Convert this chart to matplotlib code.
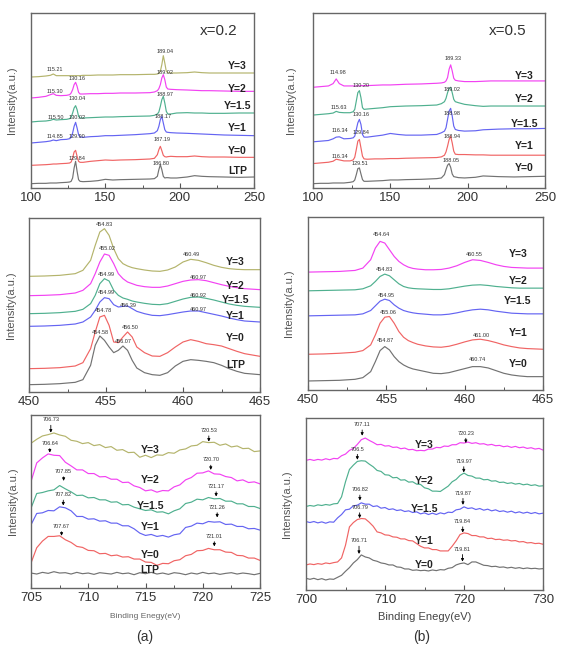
import matplotlib
matplotlib.use('Agg')
import matplotlib.pyplot as plt
from matplotlib.ticker import MultipleLocator

plt.rcParams['font.family'] = ['Liberation Sans', 'DejaVu Sans']

# ---------------- colours ----------------
C_GRAY = '#727272'
C_RED = '#f06464'
C_BLUE = '#6464f2'
C_TEAL = '#4fb08f'
C_MAG = '#f242f2'
C_OLIVE = '#b4b46c'

# ---------------- panel 1 : x=0.2, 100-250 ----------------
p1_x = [100, 105, 110, 113, 115, 117, 120, 124, 126, 127, 128, 129, 130, 131, 132, 133, 135, 140, 145, 150,
        155, 160, 170, 180, 183, 185, 186, 187, 188, 189, 190, 191, 192, 194, 198, 205, 210, 215, 220, 230,
        240, 250]
p1_LTP = [13, 14, 14, 15, 15, 15, 16, 17, 18, 20, 30, 60, 80, 50, 25, 20, 19, 20, 22, 26, 24, 25, 26, 27,
          28, 35, 55, 70, 55, 35, 30, 31, 31, 30, 30, 33, 37, 35, 34, 33, 32, 33]
p1_Y0 = [68, 69, 70, 71, 72, 72, 73, 74, 75, 78, 90, 108, 113, 95, 80, 77, 77, 80, 82, 84, 83, 84, 85, 87,
         89, 100, 115, 125, 112, 98, 94, 93, 94, 95, 94, 94, 96, 94, 93, 93, 92, 92]
p1_Y1 = [135, 137, 139, 141, 144, 142, 145, 146, 148, 152, 165, 185, 197, 180, 160, 153, 152, 154, 155, 157,
         157, 158, 160, 163, 165, 172, 185, 205, 215, 195, 175, 168, 167, 166, 165, 164, 163, 162, 161, 159,
         158, 157]
p1_Y15 = [198, 200, 201, 203, 206, 204, 205, 206, 208, 212, 225, 240, 247, 235, 215, 210, 210, 211, 212, 213,
          213, 214, 215, 216, 218, 222, 228, 245, 265, 275, 255, 230, 222, 222, 225, 226, 225, 225, 224, 224,
          225, 225]
p1_Y2 = [270, 272, 275, 280, 283, 278, 277, 278, 280, 285, 295, 310, 317, 305, 287, 282, 282, 283, 283, 284,
         284, 285, 285, 286, 288, 292, 298, 310, 330, 340, 325, 303, 297, 296, 295, 294, 293, 292, 292, 291,
         290, 290]
p1_Y3 = [333, 334, 336, 338, 342, 337, 337, 337, 337, 337, 337, 337, 337, 337, 337, 337, 338, 338, 339, 339,
         339, 340, 340, 341, 341, 342, 344, 350, 370, 397, 375, 350, 346, 345, 345, 346, 348, 346, 345, 345,
         345, 345]
p1_names = ['LTP', 'Y=0', 'Y=1', 'Y=1.5', 'Y=2', 'Y=3']
p1_name_y = [50, 112, 180, 245, 297, 365]
p1_peaks = ['189.04', '115.21', '130.16', '189.02', '115.30', '130.04', '188.97', '115.50', '130.02',
            '188.17', '114.85', '129.90', '187.19', '129.84', '186.80']
p1_peak_y = [410, 355, 328, 347, 290, 270, 282, 213, 213, 215, 155, 155, 145, 90, 75]

# ---------------- panel 2 : x=0.5, 100-250 ----------------
p2_x = list(p1_x)
p2_Y0 = [13, 14, 14, 15, 15, 15, 15, 17, 19, 24, 40, 58, 60, 42, 25, 20, 20, 21, 22, 24, 24, 25, 26, 28,
         30, 40, 55, 68, 73, 62, 42, 34, 33, 31, 30, 32, 36, 35, 34, 33, 34, 35]
p2_Y1 = [73, 75, 77, 80, 86, 84, 81, 81, 84, 92, 115, 140, 145, 120, 95, 87, 86, 87, 87, 88, 88, 89, 90, 91,
         93, 98, 108, 125, 145, 155, 135, 110, 101, 100, 100, 99, 99, 98, 98, 98, 98, 98]
p2_Y15 = [138, 140, 142, 147, 152, 153, 147, 148, 150, 155, 175, 195, 205, 190, 160, 152, 152, 155, 158, 163,
          160, 158, 158, 160, 165, 170, 180, 205, 230, 238, 215, 185, 175, 172, 170, 171, 174, 175, 176, 177,
          177, 178]
p2_Y2 = [218, 220, 222, 224, 229, 226, 225, 225, 228, 235, 260, 285, 291, 270, 240, 235, 236, 238, 240, 243,
         244, 245, 246, 248, 252, 258, 268, 285, 298, 301, 285, 265, 258, 255, 250, 246, 244, 245, 245, 245,
         245, 245]
p2_Y3 = [301, 303, 305, 312, 326, 312, 305, 305, 305, 305, 305, 305, 305, 306, 306, 306, 306, 307, 308, 308,
         309, 310, 311, 313, 314, 316, 320, 330, 355, 368, 350, 328, 322, 320, 318, 318, 319, 320, 320, 320,
         320, 320]
p2_names = ['Y=0', 'Y=1', 'Y=1.5', 'Y=2', 'Y=3']
p2_name_y = [60, 126, 191, 265, 335]
p2_peaks = ['189.33', '114.98', '130.20', '189.02', '115.63', '188.98', '130.16', '116.34', '129.84',
            '188.94', '116.34', '129.51', '188.05']
p2_peak_y = [388, 345, 305, 293, 241, 223, 221, 173, 165, 153, 93, 73, 83]

# ---------------- panel 3 : x=0.2, 450-465 ----------------
p3_x = [450, 451, 452, 453, 453.5, 454, 454.3, 454.6, 454.9, 455.2, 455.5, 455.8, 456.1, 456.4, 456.7, 457,
        457.5, 458, 458.5, 459, 459.5, 460, 460.5, 461, 461.5, 462, 462.5, 463, 463.5, 464, 465]
p3_LTP = [22, 23, 25, 29, 37, 80, 140, 168, 155, 135, 118, 125, 138, 125, 95, 72, 58, 52, 50, 58,
          78, 92, 97, 95, 92, 88, 80, 70, 62, 56, 52]
p3_Y0 = [70, 71, 73, 78, 88, 130, 180, 225, 230, 200, 150, 148, 165, 180, 165, 135, 118, 108, 107, 118,
         135, 150, 157, 152, 145, 142, 138, 130, 122, 115, 107]
p3_Y1 = [197, 198, 200, 204, 210, 225, 245, 270, 283, 280, 262, 255, 257, 258, 250, 242, 235, 230, 229, 232,
         236, 240, 243, 243, 238, 233, 228, 222, 217, 213, 210]
p3_Y15 = [235, 236, 238, 242, 248, 265, 290, 325, 340, 333, 305, 290, 282, 278, 273, 270, 266, 263, 262, 265,
          272, 279, 284, 285, 281, 276, 270, 264, 260, 257, 254]
p3_Y2 = [289, 290, 292, 297, 305, 325, 355, 390, 414, 410, 385, 355, 340, 330, 325, 320, 316, 314, 314, 318,
         325, 332, 336, 337, 334, 328, 322, 317, 313, 310, 307]
p3_Y3 = [347, 348, 350, 355, 365, 395, 440, 480, 490, 470, 430, 400, 385, 378, 373, 370, 366, 363, 362, 366,
         375, 390, 398, 395, 388, 380, 374, 370, 368, 367, 367]
p3_names = ['LTP', 'Y=0', 'Y=1', 'Y=1.5', 'Y=2', 'Y=3']
p3_name_y = [82, 162, 229, 275, 319, 389]
p3_peaks = ['454.83', '455.02', '460.49', '454.99', '460.97', '454.99', '460.92', '456.39', '454.78',
            '460.97', '456.50', '454.58', '456.07']
p3_peak_y = [502, 429, 412, 352, 344, 297, 289, 259, 244, 247, 194, 179, 152]

# ---------------- panel 4 : x=0.5, 450-465 ----------------
p4_x = list(p3_x)
p4_Y0 = [27, 28, 29, 32, 37, 55, 85, 118, 130, 120, 100, 85, 75, 68, 63, 60, 55, 50, 49, 52,
         58, 64, 70, 70, 66, 58, 50, 45, 42, 40, 40]
p4_Y1 = [107, 108, 110, 113, 118, 135, 165, 200, 218, 220, 200, 175, 158, 148, 142, 137, 132, 129, 128, 131,
         137, 144, 150, 152, 148, 142, 135, 130, 126, 124, 122]
p4_Y15 = [222, 223, 224, 225, 228, 238, 252, 266, 272, 268, 255, 245, 238, 234, 231, 229, 227, 225, 225, 227,
          231, 236, 240, 242, 240, 236, 233, 230, 229, 228, 228]
p4_Y2 = [297, 298, 299, 300, 303, 312, 325, 340, 347, 342, 330, 318, 310, 306, 304, 303, 302, 301, 301, 303,
         307, 311, 314, 315, 313, 310, 308, 306, 305, 305, 305]
p4_Y3 = [353, 354, 355, 358, 365, 390, 425, 445, 440, 420, 400, 385, 375, 368, 364, 362, 360, 360, 361, 365,
         372, 382, 390, 388, 382, 375, 370, 367, 366, 365, 365]
p4_names = ['Y=0', 'Y=1', 'Y=1.5', 'Y=2', 'Y=3']
p4_name_y = [78, 172, 267, 327, 407]
p4_peaks = ['454.64', '460.55', '454.83', '454.95', '455.06', '461.00', '454.87', '460.74']
p4_peak_y = [465, 405, 360, 284, 232, 162, 147, 90]

# ---------------- panel 5 : x=0.2, 705-725 ----------------
p5_x = [705, 705.5, 706, 706.5, 707, 707.5, 708, 708.5, 709, 709.5, 710, 710.5, 711, 711.5, 712, 712.5,
        713, 713.5, 714, 714.5, 715, 715.5, 716, 716.5, 717, 717.5, 718, 718.5, 719, 719.5, 720, 720.5,
        721, 721.5, 722, 722.5, 723, 723.5, 724, 724.5, 725]
p5_LTP = [45, 42, 47, 44, 49, 45, 46, 42, 47, 43, 45, 41, 46, 44, 42, 47, 43, 45, 40, 46,
          43, 47, 42, 45, 41, 46, 44, 40, 45, 42, 47, 43, 45, 41, 44, 46, 42, 45, 43, 40, 44]
p5_Y0 = [75, 121, 141, 155, 155, 157, 145, 137, 125, 122, 113, 112, 103, 104, 97, 99, 93, 94, 87, 87,
         78, 77, 68, 74, 73, 82, 85, 97, 101, 112, 113, 119, 115, 115, 108, 107, 98, 97, 90, 90, 83]
p5_Y1 = [190, 224, 226, 233, 232, 244, 241, 232, 215, 215, 207, 208, 201, 202, 195, 195, 187, 187, 178, 165,
         158, 161, 155, 158, 153, 160, 163, 182, 186, 195, 193, 200, 198, 199, 191, 192, 185, 185, 178, 179, 174]
p5_Y15 = [240, 284, 287, 292, 295, 308, 298, 289, 278, 279, 271, 272, 265, 265, 258, 259, 250, 251, 243, 238,
          233, 235, 228, 229, 223, 232, 238, 254, 258, 267, 265, 272, 268, 269, 261, 261, 253, 253, 245, 245, 239]
p5_Y2 = [320, 376, 391, 403, 399, 398, 378, 367, 355, 355, 344, 344, 334, 335, 327, 327, 317, 318, 307, 302,
         292, 295, 288, 293, 292, 304, 310, 325, 332, 345, 346, 352, 343, 342, 335, 332, 322, 325, 317, 319, 313]
p5_Y3 = [435, 447, 457, 461, 466, 460, 456, 444, 441, 434, 437, 428, 431, 422, 425, 414, 416, 407, 408, 393,
         399, 392, 400, 399, 407, 405, 415, 418, 427, 429, 440, 437, 438, 429, 433, 424, 427, 419, 420, 410, 412]
p5_names = ['LTP', 'Y=0', 'Y=1', 'Y=1.5', 'Y=2', 'Y=3']
p5_name_y = [55, 98, 183, 245, 325, 415]
p5_peaks = ['706.73', '706.64', '707.85', '707.82', '707.67', '720.53', '720.70', '721.17', '721.26', '721.01']
p5_text_y = [505, 435, 350, 280, 185, 473, 385, 305, 242, 155]
p5_tip_y = [467, 407, 322, 248, 157, 440, 355, 275, 212, 125]

# ---------------- panel 6 : x=0.5, 700-730 ----------------
p6_x = [700, 700.5, 701, 701.5, 702, 702.5, 703, 703.5, 704, 704.5, 705, 705.5, 706, 706.5, 707, 707.5,
        708, 708.5, 709, 709.5, 710, 710.5, 711, 711.5, 712, 712.5, 713, 713.5, 714, 714.5, 715, 715.5,
        716, 716.5, 717, 717.5, 718, 718.5, 719, 719.5, 720, 720.5, 721, 721.5, 722, 722.5, 723, 723.5,
        724, 724.5, 725, 725.5, 726, 726.5, 727, 727.5, 728, 728.5, 729, 729.5, 730]
p6_Y0 = [35, 32, 35, 31, 34, 30, 33, 32, 38, 44, 56, 67, 81, 91, 105, 99, 96, 89, 86, 81,
         79, 75, 75, 69, 68, 63, 63, 59, 60, 58, 59, 57, 60, 58, 61, 60, 65, 67, 75, 79,
         81, 76, 84, 84, 79, 74, 73, 70, 71, 68, 69, 66, 68, 65, 67, 64, 66, 64, 65, 63, 64]
p6_Y1 = [75, 78, 76, 79, 77, 81, 79, 82, 84, 96, 134, 189, 202, 211, 214, 213, 203, 191, 174, 171,
         165, 164, 159, 158, 153, 153, 148, 147, 139, 131, 126, 126, 121, 121, 117, 117, 117, 131, 147, 166,
         171, 169, 163, 163, 159, 159, 154, 155, 151, 152, 149, 150, 147, 148, 144, 145, 141, 142, 139, 140, 137]
p6_Y15 = [205, 202, 205, 201, 204, 200, 204, 203, 216, 226, 240, 242, 252, 254, 261, 257, 257, 250, 252, 245,
          247, 241, 243, 238, 240, 235, 237, 232, 234, 228, 231, 226, 230, 226, 231, 228, 233, 232, 240, 242,
          249, 244, 246, 241, 244, 239, 242, 237, 240, 235, 237, 233, 236, 231, 234, 230, 233, 229, 232, 228, 230]
p6_Y2 = [250, 253, 251, 255, 253, 256, 254, 258, 259, 279, 324, 361, 374, 385, 387, 386, 377, 369, 358, 355,
         345, 344, 336, 337, 329, 330, 323, 324, 317, 316, 306, 303, 296, 296, 295, 303, 311, 324, 331, 343,
         350, 343, 341, 335, 335, 330, 331, 326, 327, 322, 323, 319, 321, 317, 319, 315, 317, 313, 315, 311, 312]
p6_Y3 = [388, 391, 388, 391, 389, 393, 390, 394, 393, 402, 407, 418, 424, 436, 450, 455, 448, 442, 435, 436,
         431, 432, 427, 428, 423, 425, 420, 421, 417, 418, 417, 422, 422, 427, 426, 431, 430, 435, 435, 441,
         440, 443, 439, 441, 437, 438, 434, 436, 432, 433, 429, 431, 427, 430, 426, 428, 424, 426, 422, 424, 419]
p6_names = ['Y=0', 'Y=1', 'Y=1.5', 'Y=2', 'Y=3']
p6_name_y = [75, 147, 243, 325, 435]
p6_peaks = ['707.11', '706.5', '706.82', '706.79', '706.71', '720.23', '719.97', '719.87', '719.84', '719.81']
p6_text_y = [495, 422, 300, 247, 147, 470, 385, 290, 205, 122]
p6_tip_y = [462, 390, 268, 215, 108, 440, 352, 255, 172, 85]

# ---------------- figure ----------------
W, H = 562, 647
fig = plt.figure(figsize=(W / 100, H / 100), dpi=100)


def add_ax(l, t, r, b):
    return fig.add_axes([l / W, 1 - b / H, (r - l) / W, (b - t) / H])


def style(ax, xlim, ylim, major, minor):
    ax.set_xlim(*xlim)
    ax.set_ylim(*ylim)
    ax.set_yticks([])
    ax.xaxis.set_major_locator(MultipleLocator(major))
    ax.xaxis.set_minor_locator(MultipleLocator(minor))
    ax.tick_params(axis='x', which='major', direction='in', length=3.5, width=0.8, colors='#555',
                   labelsize=9.5, labelcolor='#333', pad=3)
    ax.tick_params(axis='x', which='minor', direction='in', length=2, width=0.7, colors='#555')
    for s in ax.spines.values():
        s.set_color('#666')
        s.set_linewidth(1.0)


def draw_curves(ax, x, curves, colors):
    for y, c in zip(curves, colors):
        ax.plot(x, y, color=c, lw=0.85)


def draw_names(ax, xpos, names, ys):
    for n, y in zip(names, ys):
        ax.text(xpos, y, n, ha='center', va='center', fontsize=7.5, fontweight='bold', color='#222')


def draw_peaks(ax, peaks, ys, dx=0.0):
    for p, y in zip(peaks, ys):
        ax.text(float(p) + dx, y, p, ha='center', va='center', fontsize=4, color='#333')


def draw_arrows(ax, peaks, text_y, tip_y):
    for p, ty, tip in zip(peaks, text_y, tip_y):
        ax.annotate(p, xy=(float(p), tip), xytext=(float(p), ty), ha='center', va='center',
                    fontsize=4, color='#333',
                    arrowprops=dict(arrowstyle='-|>', color='k', lw=0.6, mutation_scale=4,
                                    shrinkA=0, shrinkB=0))


# panel 1
ax1 = add_ax(31, 13, 254, 188)
draw_curves(ax1, p1_x, [p1_LTP, p1_Y0, p1_Y1, p1_Y15, p1_Y2, p1_Y3],
            [C_GRAY, C_RED, C_BLUE, C_TEAL, C_MAG, C_OLIVE])
style(ax1, (100, 250), (0, 525), 50, 25)
draw_names(ax1, 239, p1_names, p1_name_y)
draw_peaks(ax1, p1_peaks, p1_peak_y, dx=1.0)
ax1.text(226, 470, 'x=0.2', ha='center', va='center', fontsize=11, color='#333')

# panel 2
ax2 = add_ax(313, 13, 545, 188)
draw_curves(ax2, p2_x, [p2_Y0, p2_Y1, p2_Y15, p2_Y2, p2_Y3], [C_GRAY, C_RED, C_BLUE, C_TEAL, C_MAG])
style(ax2, (100, 250), (0, 523), 50, 25)
draw_names(ax2, 236.5, p2_names, p2_name_y)
draw_peaks(ax2, p2_peaks, p2_peak_y, dx=1.0)
ax2.text(226, 468, 'x=0.5', ha='center', va='center', fontsize=11, color='#333')

# panel 3
ax3 = add_ax(29, 218, 260, 392)
draw_curves(ax3, p3_x, [p3_LTP, p3_Y0, p3_Y1, p3_Y15, p3_Y2, p3_Y3],
            [C_GRAY, C_RED, C_BLUE, C_TEAL, C_MAG, C_OLIVE])
style(ax3, (450, 465), (0, 522), 5, 2.5)
draw_names(ax3, 463.4, p3_names, p3_name_y)
draw_peaks(ax3, p3_peaks, p3_peak_y, dx=0.05)

# panel 4
ax4 = add_ax(308, 217, 543, 390)
draw_curves(ax4, p4_x, [p4_Y0, p4_Y1, p4_Y15, p4_Y2, p4_Y3], [C_GRAY, C_RED, C_BLUE, C_TEAL, C_MAG])
style(ax4, (450, 465), (0, 518), 5, 2.5)
draw_names(ax4, 463.4, p4_names, p4_name_y)
draw_peaks(ax4, p4_peaks, p4_peak_y, dx=0.05)

# panel 5
ax5 = add_ax(31, 415, 260, 588)
draw_curves(ax5, p5_x, [p5_LTP, p5_Y0, p5_Y1, p5_Y15, p5_Y2, p5_Y3],
            [C_GRAY, C_RED, C_BLUE, C_TEAL, C_MAG, C_OLIVE])
style(ax5, (705, 725), (0, 520), 5, 2.5)
draw_names(ax5, 715.4, p5_names, p5_name_y)
draw_arrows(ax5, p5_peaks, p5_text_y, p5_tip_y)
ax5.set_xlabel('Binding Enegy(eV)', fontsize=6, color='#666', labelpad=6)

# panel 6
ax6 = add_ax(306, 418, 543, 590)
draw_curves(ax6, p6_x, [p6_Y0, p6_Y1, p6_Y15, p6_Y2, p6_Y3], [C_GRAY, C_RED, C_BLUE, C_TEAL, C_MAG])
style(ax6, (700, 730), (0, 515), 10, 5)
draw_names(ax6, 715, p6_names, p6_name_y)
draw_arrows(ax6, p6_peaks, p6_text_y, p6_tip_y)
ax6.set_xlabel('Binding Enegy(eV)', fontsize=8, color='#444', labelpad=4)

# y labels
for xc, (t, b) in [(12, (13, 188)), (291, (13, 188)), (11, (218, 392)), (289, (217, 390)),
                   (13, (415, 588)), (287, (418, 590))]:
    fig.text(xc / W, 1 - ((t + b) / 2) / H, 'Intensity(a.u.)', rotation=90, ha='center', va='center',
             fontsize=8, color='#555')

fig.text(145 / W, 1 - 637 / H, '(a)', ha='center', va='center', fontsize=10, color='#333')
fig.text(422 / W, 1 - 637 / H, '(b)', ha='center', va='center', fontsize=10, color='#333')

fig.savefig('out.png', dpi=100, facecolor='white')
